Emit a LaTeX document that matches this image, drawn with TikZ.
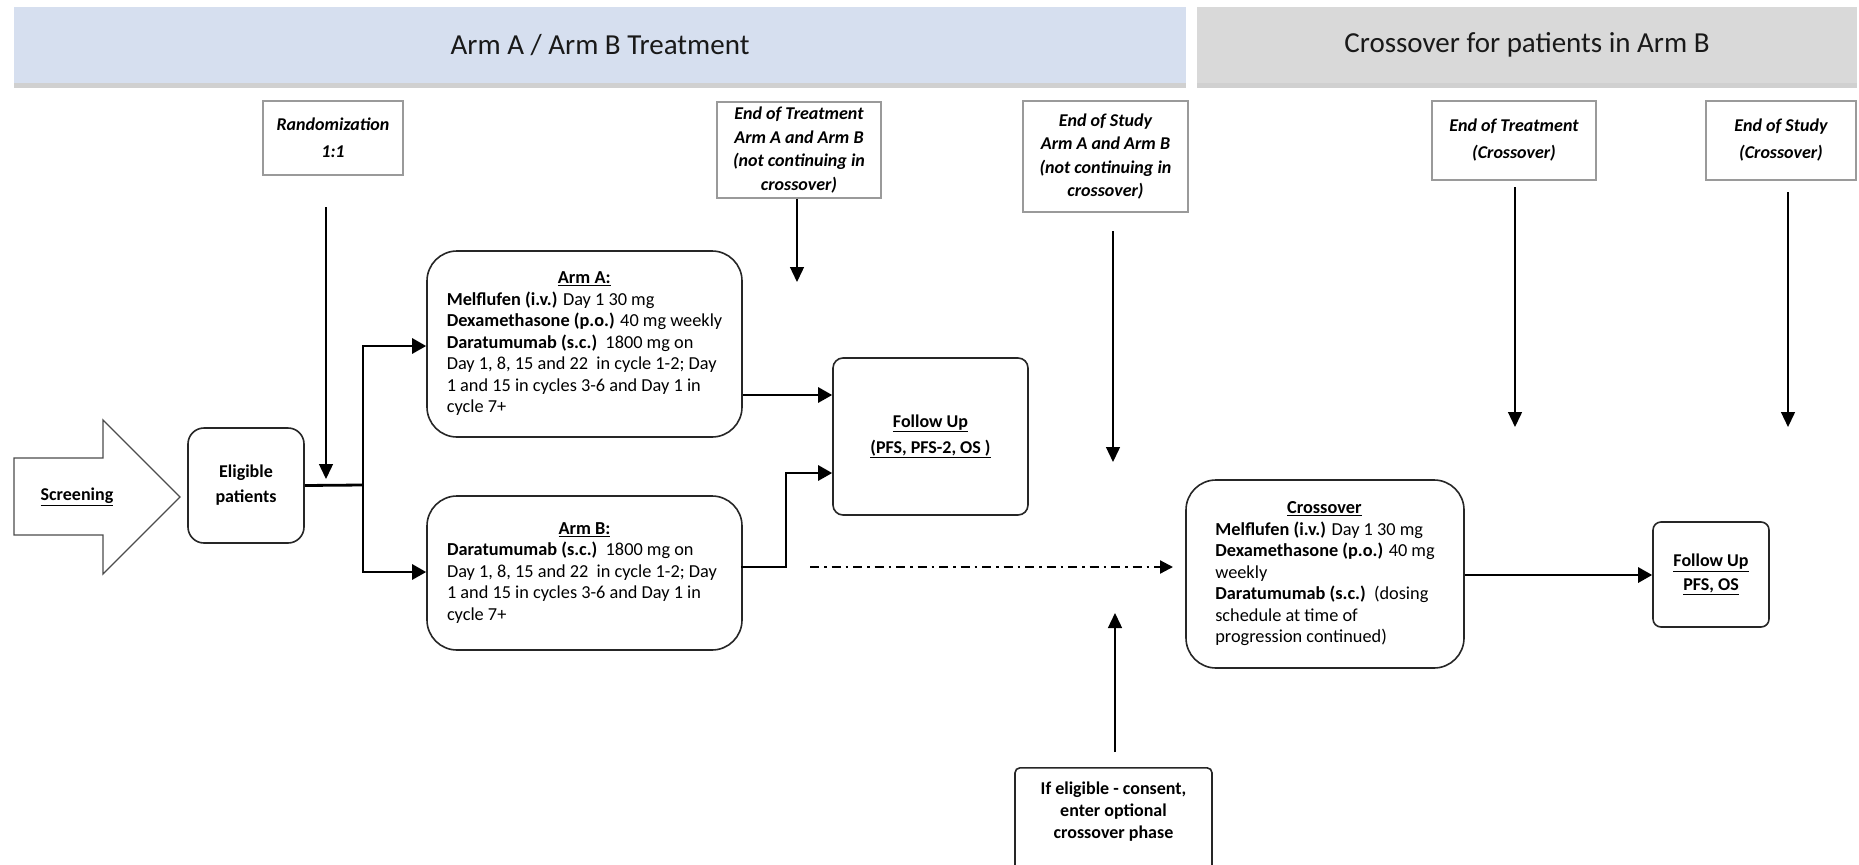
\documentclass[tikz,border=0pt]{standalone}
\usepackage{fontspec}
\setmainfont{Carlito}
\usetikzlibrary{arrows.meta,shadows}
\definecolor{bannerblue}{HTML}{D6DFEF}
\definecolor{bannergray}{HTML}{D9D9D9}
\definecolor{annot}{HTML}{9A9A9A}
\definecolor{boxline}{HTML}{262626}
\tikzset{
  banner/.style={minimum height=76pt, inner sep=0pt, text=black!90,
    font=\fontsize{29}{34}\selectfont,
    drop shadow={shadow xshift=0pt, shadow yshift=-5pt, opacity=0.3, fill=black!60}},
  note/.style={draw=annot, line width=1.3pt, inner sep=0pt, align=center,
    font=\fontsize{18}{23.5}\selectfont\bfseries\itshape},
  note2/.style={note, font=\fontsize{18}{27}\selectfont\bfseries\itshape},
  rbox/.style={draw=boxline, line width=1.6pt, rounded corners=30pt, inner sep=0pt},
  body/.style={font=\fontsize{18.3}{21.5}\selectfont, align=left},
  notearrow/.style={line width=1.4pt, -{Triangle[length=15pt,width=14pt]}},
  flowarrow/.style={line width=2.8pt, -{Triangle[length=14pt,width=15pt]}},
  flowline/.style={line width=2.8pt},
}
\begin{document}
\begin{tikzpicture}[x=1pt,y=-1pt]
\useasboundingbox (0,0) rectangle (1859,864);
\fill[white] (0,0) rectangle (1859,864);

% banners
\node[banner, fill=bannerblue, minimum width=1172pt] (bA) at (600,45) {Arm A / Arm B Treatment};
\node[banner, fill=bannergray, minimum width=660pt] (bB) at (1527,45) {Crossover for patients in Arm B};

% annotation boxes
\node[note2, minimum width=140pt, minimum height=74pt] (rand) at (333,138) {Randomization\\1:1};
\node[note, minimum width=164pt, minimum height=96pt] (eot) at (799,150) {End of Treatment\\Arm A and Arm B\\(not continuing in\\crossover)};
\node[note, minimum width=165pt, minimum height=111pt] (eos) at (1105.5,156.5) {End of Study\\Arm A and Arm B\\(not continuing in\\crossover)};
\node[note2, minimum width=164pt, minimum height=79pt] (eotc) at (1514,140.5) {End of Treatment\\(Crossover)};
\node[note2, minimum width=150pt, minimum height=79pt] (eosc) at (1781,140.5) {End of Study\\(Crossover)};

% screening arrow
\draw[draw=black!70, line width=1.3pt, fill=white]
  (14,458) -- (103,458) -- (103,420) -- (180,497) -- (103,574) -- (103,535) -- (14,535) -- cycle;
\node[font=\fontsize{18}{21}\selectfont\bfseries] (scr) at (77,497) {\underline{Screening}};

% rounded boxes
\node[rbox, rounded corners=16pt, minimum width=116pt, minimum height=115pt, align=center,
  font=\fontsize{18}{25}\selectfont\bfseries] (elig) at (246,485.5) {Eligible\\patients};

\node[rbox, body, minimum width=315pt, minimum height=186pt] (armA) at (584.5,344)
{\makebox[275pt][c]{\underline{\textbf{Arm A:}}}\\
\textbf{Melflufen (i.v.)} Day 1 30 mg\\
\textbf{Dexamethasone (p.o.)} 40 mg weekly\\
\textbf{Daratumumab (s.c.)}\ \ 1800 mg on\\
Day 1, 8, 15 and 22\ \ in cycle 1-2; Day\\
1 and 15 in cycles 3-6 and Day 1 in\\
cycle 7+};

\node[rbox, body, minimum width=315pt, minimum height=154pt] (armB) at (584.5,573)
{\makebox[275pt][c]{\underline{\textbf{Arm B:}}}\\
\textbf{Daratumumab (s.c.)}\ \ 1800 mg on\\
Day 1, 8, 15 and 22\ \ in cycle 1-2; Day\\
1 and 15 in cycles 3-6 and Day 1 in\\
cycle 7+};

\node[rbox, rounded corners=10pt, minimum width=195pt, minimum height=157pt, align=center,
  font=\fontsize{18}{26}\selectfont\bfseries] (fu1) at (930.5,436.5)
  {\underline{Follow Up}\\\underline{(PFS, PFS-2, OS )}};

\node[rbox, body, minimum width=278pt, minimum height=188pt] (cross) at (1325,574)
{\makebox[218pt][c]{\underline{\textbf{Crossover}}}\\
\textbf{Melflufen (i.v.)} Day 1 30 mg\\
\textbf{Dexamethasone (p.o.)} 40 mg\\
weekly\\
\textbf{Daratumumab (s.c.)}\ \ (dosing\\
schedule at time of\\
progression continued)};

\node[rbox, rounded corners=8pt, minimum width=116pt, minimum height=105pt, align=center,
  font=\fontsize{18}{24}\selectfont\bfseries] (fu2) at (1711,574.5)
  {\underline{Follow Up}\\\underline{PFS, OS}};

\node[rbox, rounded corners=5pt, minimum width=197pt, minimum height=124pt, anchor=north] (ifel) at (1113.5,767) {};
\node[align=center, font=\fontsize{18}{22}\selectfont\bfseries] (ifeltxt) at (1113.5,812)
  {If eligible - consent,\\enter optional\\crossover phase};

% coordinates for free arrow ends
\coordinate (randS) at (326,207);
\coordinate (randE) at (326,479);
\coordinate (eotE) at (797,282);
\coordinate (eosS) at (1113,231);
\coordinate (eosE) at (1113,462);
\coordinate (eotcS) at (1515,187);
\coordinate (eotcE) at (1515,427);
\coordinate (eoscS) at (1788,192);
\coordinate (eoscE) at (1788,427);
\coordinate (ifelS) at (1115,752);
\coordinate (ifelE) at (1115,613);
\coordinate (split) at (363,485);
\coordinate (dS) at (810,567);
\coordinate (dE) at (1173,567);
\coordinate (aJ) at (363,346);
\coordinate (bJ) at (363,572);

% thin annotation arrows
\draw[notearrow] (randS) -- (randE);
\draw[notearrow] (eot.south -| eotE) -- (eotE);
\draw[notearrow] (eosS) -- (eosE);
\draw[notearrow] (eotcS) -- (eotcE);
\draw[notearrow] (eoscS) -- (eoscE);
\draw[notearrow] (ifelS) -- (ifelE);

% flow connectors
\draw[flowline] (elig.east) -- (split);
\draw[flowarrow] (split) -- (aJ) -- (aJ -| armA.west);
\draw[flowarrow] (split) -- (bJ) -- (bJ -| armB.west);
\draw[flowarrow] ([yshift=-51pt]armA.east) coordinate (a1) -- (a1 -| fu1.west);
\draw[flowarrow] ([xshift=-2pt,yshift=6pt]armB.east) coordinate (b1) -- (b1 -| 786,0) |- ([yshift=-36.5pt]fu1.west);
\draw[line width=2.2pt, dash pattern=on 9pt off 5pt on 2.5pt off 5pt,
  -{Triangle[length=13pt,width=13pt]}] (dS) -- (dE);
\draw[flowarrow] ([yshift=-1pt]cross.east) coordinate (c1) -- (c1 -| fu2.west);
\end{tikzpicture}
\end{document}
